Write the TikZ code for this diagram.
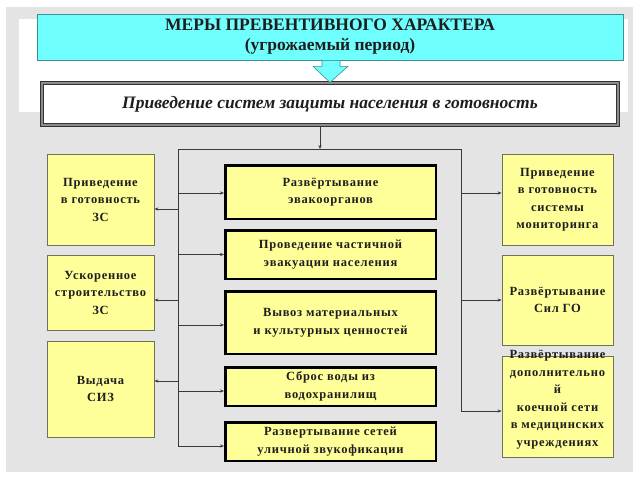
\documentclass[tikz,border=0pt]{standalone}
\usepackage{fontspec}
\setmainfont{Liberation Serif}
\usetikzlibrary{arrows.meta,calc}
\definecolor{bggray}{HTML}{E4E4E4}
\definecolor{boxyellow}{HTML}{FFFF99}
\definecolor{sideline}{HTML}{707060}
\definecolor{cyanfill}{HTML}{70FFFF}
\definecolor{cyanline}{HTML}{3F8F8F}
\definecolor{txt}{HTML}{1E1E1E}
\definecolor{conn}{HTML}{3A3A3A}
\newcommand{\boxfont}{\bfseries\fontsize{12.5}{17.5}\selectfont\addfontfeature{LetterSpace=6}}
\tikzset{
  sidebox/.style={draw=sideline, fill=boxyellow, line width=0.8pt, minimum width=#1, inner sep=0pt, align=center, font=\boxfont, text=txt},
  midbox/.style={draw=black, fill=boxyellow, line width=2.5pt, minimum width=210.5pt, inner sep=0pt, align=center, font=\boxfont, text=txt},
  plaintext/.style={inner sep=0pt, align=center, font=\boxfont, text=txt},
  link/.style={draw=conn, line width=0.7pt},
  arr/.style={link, -{Stealth[length=4pt,width=3.2pt]}}
}
\begin{document}
\begin{tikzpicture}[x=1pt,y=-1pt]
\useasboundingbox (0,0) rectangle (640,480);
\fill[white] (0,0) rectangle (640,480);
\fill[bggray] (6,7) rectangle (633,472);
\fill[white] (19,19) rectangle (628,112);

% header
\node[draw=cyanline, fill=cyanfill, line width=0.6pt, minimum width=586pt, minimum height=46pt, inner sep=0pt, align=center, text=txt,
  font=\bfseries\fontsize{17.5}{20}\selectfont] (head) at (330,37)
  {МЕРЫ ПРЕВЕНТИВНОГО ХАРАКТЕРА\\(угрожаемый период)};

% band
\node[draw=black!80, double=black!45, line width=1.2pt, double distance=1.2pt, fill=white, minimum width=576pt, minimum height=42pt, inner sep=0pt, text=txt,
  font=\bfseries\itshape\fontsize{17.5}{20}\selectfont] (band) at (330,104)
  {Приведение систем защиты населения в готовность};

% big arrow
\filldraw[fill=cyanfill, draw=cyanline, line width=0.6pt]
  ($(head.south)+(-8,0)$) -- ($(head.south)+(10,0)$) -- ($(head.south)+(10,6)$) -- ($(head.south)+(18,6)$)
  -- (band.north) -- ($(head.south)+(-17,6)$) -- ($(head.south)+(-8,6)$) -- cycle;

% left boxes
\node[sidebox=107pt, minimum height=91pt] (b1) at (100.5,199.5) {Приведение\\в готовность\\ЗС};
\node[sidebox=107pt, minimum height=75pt] (b2) at (100.5,292.5) {Ускоренное\\строительство\\ЗС};
\node[sidebox=107pt, minimum height=96pt] (b3) at (100.5,389) {Выдача\\СИЗ};

% middle boxes
\node[midbox, minimum height=53.5pt] (c1) at (330.5,192) {Развёртывание\\эвакоорганов};
\node[midbox, minimum height=48.5pt] (c2) at (330.5,254.5) {Проведение частичной\\эвакуации населения};
\node[midbox, minimum height=62.5pt] (c3) at (330.5,322.5) {Вывоз материальных\\и культурных ценностей};
\node[midbox, minimum height=38.5pt] (c4) at (330.5,386.5) {Сброс воды из\\водохранилищ};
\node[midbox, minimum height=38.5pt] (c5) at (330.5,441.5) {Развертывание сетей\\уличной звукофикации};

% right boxes
\node[sidebox=111pt, minimum height=91pt] (r1) at (557.5,199.5) {Приведение\\в готовность\\системы\\мониторинга};
\node[sidebox=111pt, minimum height=90pt] (r2) at (557.5,300) {Развёртывание\\Сил ГО};
\node[sidebox=111pt, minimum height=101pt] (r3) at (557.5,406.5) {};
\node[plaintext] (r3t) at ([yshift=7pt]r3.center) {Развёртывание\\дополнительно\\й\\коечной сети\\в медицинских\\учреждениях};

% connectors
\coordinate (hub) at (320,149);
\coordinate (tl) at (178,149);
\coordinate (tr) at (461,149);
\coordinate (bl) at (178,446);
\coordinate (br) at (461,411);
\draw[arr] (band.south -| hub) -- (hub);
\draw[link] (tl) -- (tr);
\draw[link] (tl) -- (bl);
\draw[link] (tr) -- (br);

\draw[arr] ([yshift=-9.5pt]b1.east -| tl) -- ([yshift=-9.5pt]b1.east);
\draw[arr] ([yshift=-7.5pt]b2.east -| tl) -- ([yshift=-7.5pt]b2.east);
\draw[arr] ([yshift=8pt]b3.east -| tl) -- ([yshift=8pt]b3.east);

\draw[arr] ([yshift=-1pt]c1.west -| tl) -- ([yshift=-1pt]c1.west);
\draw[arr] (c2.west -| tl) -- (c2.west);
\draw[arr] ([yshift=-2.5pt]c3.west -| tl) -- ([yshift=-2.5pt]c3.west);
\draw[arr] ([yshift=-4.5pt]c4.west -| tl) -- ([yshift=-4.5pt]c4.west);
\draw[arr] (bl) -- (bl -| c5.west);

\draw[arr] ([yshift=6.5pt]r1.west -| tr) -- ([yshift=6.5pt]r1.west);
\draw[arr] (r2.west -| tr) -- (r2.west);
\draw[arr] (br) -- (br -| r3.west);
\end{tikzpicture}
\end{document}
